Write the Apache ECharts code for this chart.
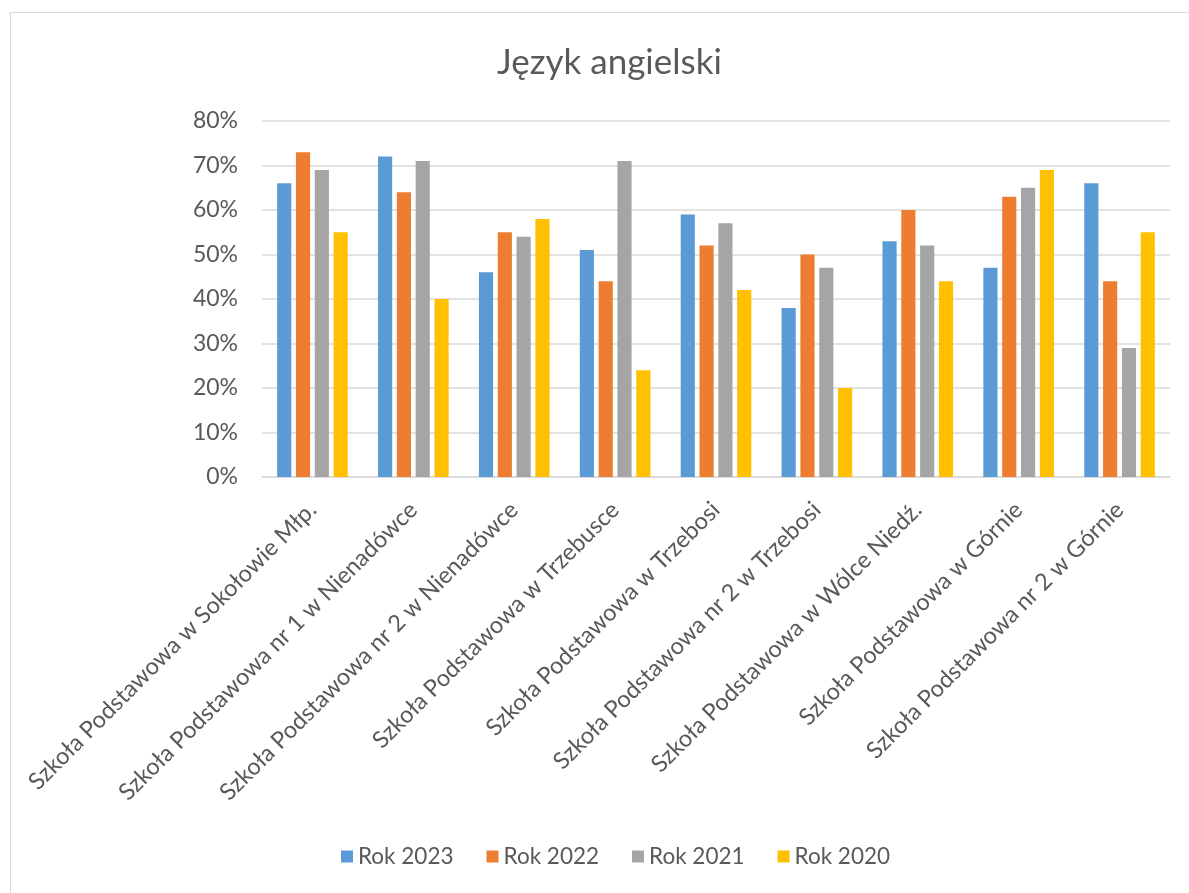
<!DOCTYPE html>
<html>
<head>
<meta charset="utf-8">
<script src="https://cdn.jsdelivr.net/npm/echarts@6/dist/echarts.min.js"></script>
<style>
html,body{margin:0;padding:0;background:#fff;width:1189px;height:893px;overflow:hidden;}
#frame{position:absolute;left:10px;top:12px;width:1200px;height:900px;border:1px solid #d9d9d9;box-sizing:border-box;}
#chart{position:absolute;left:0;top:0;width:1189px;height:893px;}
</style>
</head>
<body>
<div id="frame"></div>
<div id="chart"></div>
<script>
const categories = [
  "Szkoła Podstawowa w Sokołowie Młp.",
  "Szkoła Podstawowa nr 1 w Nienadówce",
  "Szkoła Podstawowa nr 2 w Nienadówce",
  "Szkoła Podstawowa w Trzebusce",
  "Szkoła Podstawowa w Trzebosi",
  "Szkoła Podstawowa nr 2 w Trzebosi",
  "Szkoła Podstawowa w Wólce Niedź.",
  "Szkoła Podstawowa w Górnie",
  "Szkoła Podstawowa nr 2 w Górnie"
];
const seriesNames = ["Rok 2023", "Rok 2022", "Rok 2021", "Rok 2020"];
const rok2023 = [66, 72, 46, 51, 59, 38, 53, 47, 66];
const rok2022 = [73, 64, 55, 44, 52, 50, 60, 63, 44];
const rok2021 = [69, 71, 54, 71, 57, 47, 52, 65, 29];
const rok2020 = [55, 40, 58, 24, 42, 20, 44, 69, 55];
const yTicks = [0, 10, 20, 30, 40, 50, 60, 70, 80];
const colors = ["#5B9BD5", "#ED7D31", "#A5A5A5", "#FFC000"];

const FONT = "Lato";
const chart = echarts.init(document.getElementById('chart'), null, {renderer: 'canvas'});
const values = [rok2023, rok2022, rok2021, rok2020];
chart.setOption({
  animation: false,
  color: colors,
  textStyle: {fontFamily: FONT},
  title: {
    text: "Język angielski",
    left: 492,
    top: 40,
    textStyle: {fontFamily: FONT, fontSize: 35, fontWeight: 'normal', color: '#595959'}
  },
  legend: {
    data: seriesNames,
    bottom: 20,
    left: 336,
    itemWidth: 12,
    itemHeight: 12,
    itemGap: 33,
    icon: 'rect',
    textStyle: {fontFamily: FONT, fontSize: 22.5, color: '#595959'}
  },
  grid: {left: 262, right: 19, top: 121, bottom: 416, containLabel: false},
  xAxis: {
    type: 'category',
    data: categories,
    axisLine: {lineStyle: {color: '#d9d9d9', width: 1.5}},
    axisTick: {show: false},
    axisLabel: {
      rotate: 45,
      interval: 0,
      margin: 29,
      fontFamily: FONT,
      fontSize: 23.5,
      color: '#595959'
    }
  },
  yAxis: {
    type: 'value',
    min: yTicks[0],
    max: yTicks[yTicks.length - 1],
    interval: 10,
    axisLine: {show: false},
    axisTick: {show: false},
    splitLine: {lineStyle: {color: '#d9d9d9', width: 1.5}},
    axisLabel: {
      formatter: '{value}%',
      margin: 24,
      fontFamily: FONT,
      fontSize: 23,
      color: '#595959'
    }
  },
  series: seriesNames.map((name, i) => ({
    name: name,
    type: 'bar',
    data: values[i],
    barGap: '33%',
    barCategoryGap: '30%',
    itemStyle: {color: colors[i]}
  }))
});
</script>
</body>
</html>
